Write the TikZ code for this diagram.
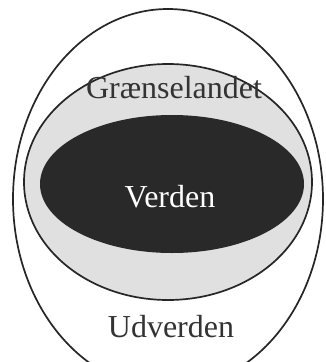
\documentclass[tikz,border=0pt]{standalone}
\usepackage{fontspec}
\setmainfont{Liberation Serif}
\begin{document}
\begin{tikzpicture}[x=1pt,y=-1pt,
  ring/.style={draw=black!85,line width=1.7pt},
  lbl/.style={font=\fontsize{32}{32}\selectfont,anchor=base,inner sep=0pt}]
\useasboundingbox (0,0) rectangle (326,362);
\clip (0,0) rectangle (326,362);
\fill[white] (0,0) rectangle (326,362);
\draw[ring] (168,199) ellipse [x radius=155,y radius=190];
\draw[ring,fill=black!12] (168,182) ellipse [x radius=144,y radius=118];
\fill[black!84] (172,184) ellipse [x radius=132,y radius=69];
\node[lbl,text=black!80] (graense) at (174,98) {Grænselandet};
\node[lbl,text=white] (verden) at (170,207) {Verden};
\node[lbl,text=black!80] (udverden) at (171,337) {Udverden};
\end{tikzpicture}
\end{document}
